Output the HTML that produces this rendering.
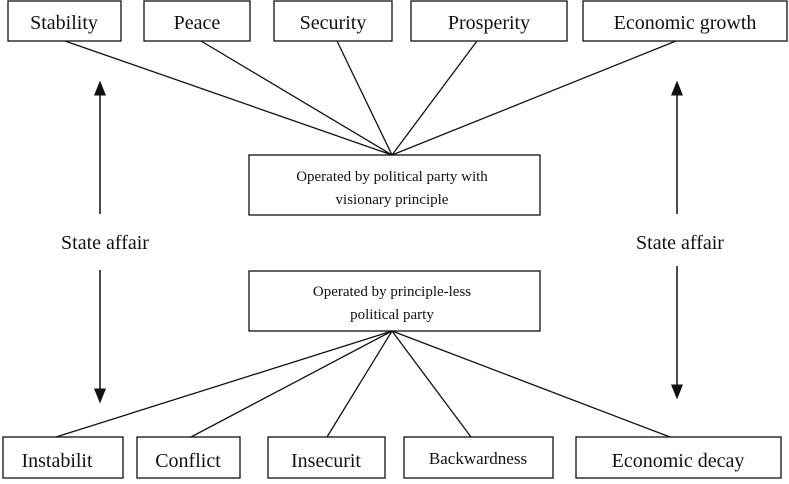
<!DOCTYPE html>
<html><head><style>
body{margin:0;background:#fff}
svg text{font-family:"Liberation Serif",serif;fill:#111}
</style></head><body>
<svg width="789" height="479" viewBox="0 0 789 479" xmlns="http://www.w3.org/2000/svg">
<defs><marker id="a" markerWidth="10" markerHeight="10" refX="5" refY="5" orient="auto"><path d="M0,1 L10,5 L0,9 z" fill="#111"/></marker></defs>
<g fill="none" stroke="#111" stroke-width="1.3">
<rect x="8" y="1" width="113" height="40"/>
<rect x="144" y="1" width="106" height="40"/>
<rect x="274" y="1" width="118" height="40"/>
<rect x="411" y="1" width="156" height="40"/>
<rect x="583" y="1" width="204" height="40"/>
<rect x="249" y="155" width="291" height="60"/>
<rect x="249" y="271" width="291" height="60"/>
<rect x="3" y="437" width="120" height="41"/>
<rect x="137" y="437" width="103" height="41"/>
<rect x="268" y="437" width="117" height="41"/>
<rect x="404" y="437" width="149" height="41"/>
<rect x="576" y="437" width="205" height="41"/>
<path d="M65,41 L392,155 M201,41 L392,155 M337,41 L392,155 M477,41 L392,155 M676,41 L392,155"/>
<path d="M392,331 L56,437 M392,331 L191,437 M392,331 L327,437 M392,331 L471,437 M392,331 L670,437"/>
</g>
<g stroke="#111" stroke-width="1.5">
<line x1="100" y1="214" x2="100" y2="88" marker-end="url(#a)"/>
<line x1="677" y1="214" x2="677" y2="88" marker-end="url(#a)"/>
<line x1="100" y1="270" x2="100" y2="396" marker-end="url(#a)"/>
<line x1="677" y1="266" x2="677" y2="392" marker-end="url(#a)"/>
</g>
<g font-size="20" text-anchor="middle">
<text x="64" y="29">Stability</text>
<text x="197" y="29">Peace</text>
<text x="333" y="29">Security</text>
<text x="489" y="29">Prosperity</text>
<text x="685" y="29">Economic growth</text>
<text x="57" y="467">Instabilit</text>
<text x="188" y="467">Conflict</text>
<text x="326" y="467">Insecurit</text>
<text x="478" y="464" font-size="17">Backwardness</text>
<text x="678" y="467">Economic decay</text>
<text x="105" y="249">State affair</text>
<text x="680" y="249">State affair</text>
</g>
<g font-size="15" text-anchor="middle">
<text x="392" y="181">Operated by political party with</text>
<text x="392" y="204">visionary principle</text>
<text x="392" y="296">Operated by principle-less</text>
<text x="392" y="319">political party</text>
</g>
</svg>
</body></html>
